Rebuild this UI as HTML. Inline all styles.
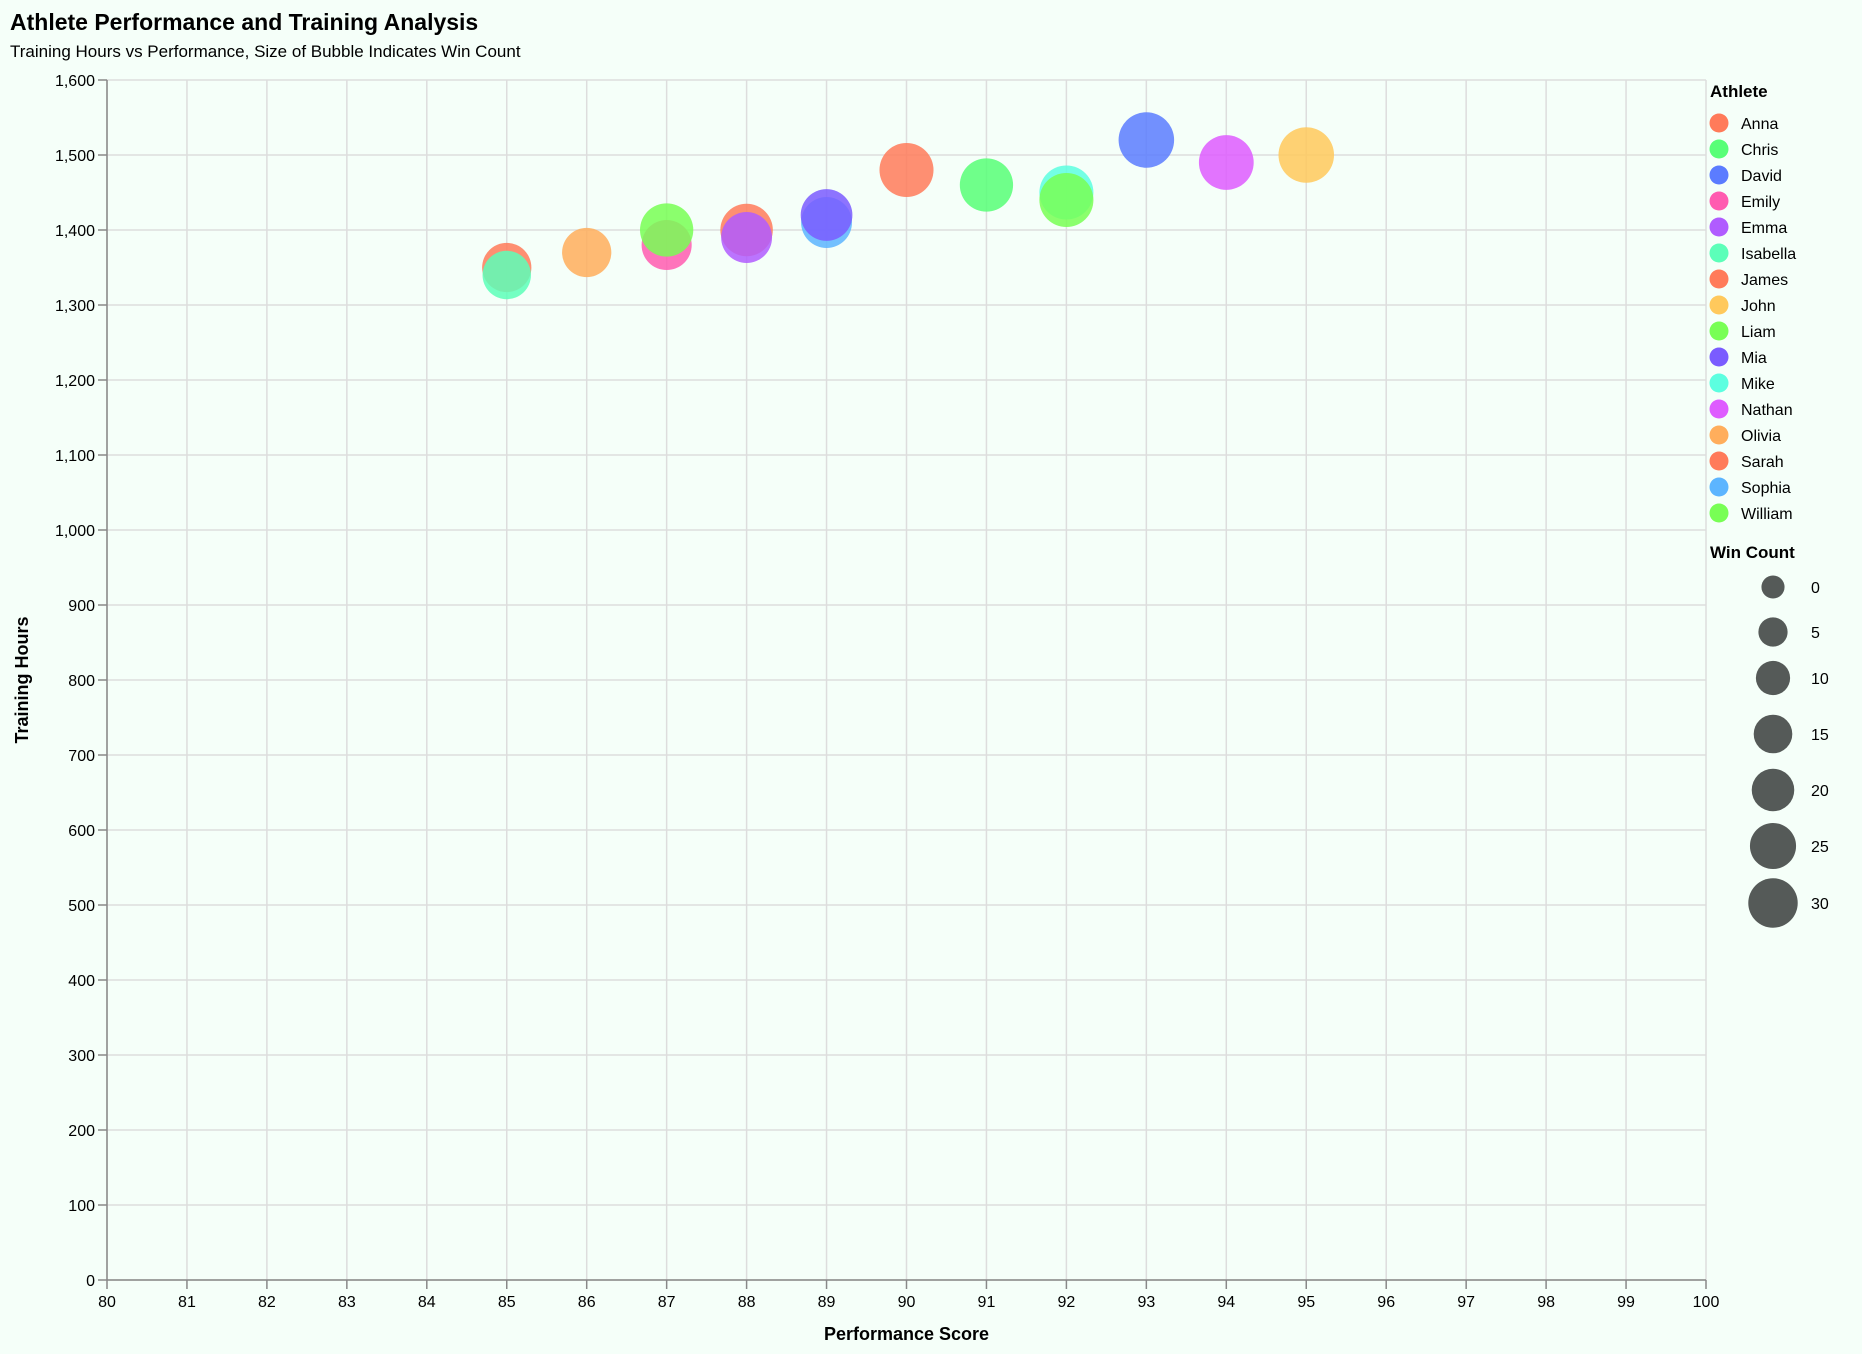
<!DOCTYPE html>
<html><head><meta charset="utf-8"><style>
html,body{margin:0;padding:0;background:#f5fff9;}
svg{display:block;font-family:"Liberation Sans",Arial,sans-serif;}
</style></head><body>
<svg id="c" width="1862" height="1354" xmlns="http://www.w3.org/2000/svg">
<rect width="1862" height="1354" fill="#f5fff9"/>
<text x="10" y="30" font-size="23" font-weight="bold" fill="#000">Athlete Performance and Training Analysis</text>
<text x="10" y="57" font-size="17" fill="#000">Training Hours vs Performance, Size of Bubble Indicates Win Count</text>
<g id="grid"></g>
<g id="axes"></g>
<g id="marks"></g>
<g id="legend"></g>
</svg>
<script>
const athletes = ["Sarah","Isabella","Olivia","Emily","Liam","James","Emma","Sophia","Mia","Anna","Chris","Mike","William","David","Nathan","John"];
const scores = [85,85,86,87,87,88,88,89,89,90,91,92,92,93,94,95];
const hours = [1350,1340,1370,1380,1400,1400,1390,1410,1420,1480,1460,1450,1440,1520,1490,1500];
const wins = [20,19,20,21,25,24,22,22,23,26,25,26,26,28,27,28];
const legendNames = ["Anna","Chris","David","Emily","Emma","Isabella","James","John","Liam","Mia","Mike","Nathan","Olivia","Sarah","Sophia","William"];
const legendColors = ["#ff7b5a","#57ff77","#5b7cff","#ff5cb0","#b05cff","#5cffb9","#ff7b5a","#ffc95c","#78ff55","#7a5cff","#5cffe0","#de5cff","#ffae5c","#ff7b5a","#5cb5ff","#78ff55"];
const xTicks = [80,81,82,83,84,85,86,87,88,89,90,91,92,93,94,95,96,97,98,99,100];
const yTicks = [0,100,200,300,400,500,600,700,800,900,1000,1100,1200,1300,1400,1500,1600];
const sizeTicks = [0,5,10,15,20,25,30];

const NS="http://www.w3.org/2000/svg";
const L=107,R=1706,T=80,B=1280;
const xs=v=>L+(v-80)/20*(R-L);
const ys=v=>B-v/1600*(B-T);
const area=w=>616+64.5*w;
const rad=w=>Math.sqrt(area(w)/Math.PI);
const larea=w=>420+50*w;
const lrad=w=>Math.sqrt(larea(w)/Math.PI);
const col=n=>legendColors[legendNames.indexOf(n)];
function mk(tag,attrs,parent,txt){const e=document.createElementNS(NS,tag);for(const k in attrs)e.setAttribute(k,attrs[k]);if(txt!==undefined)e.textContent=txt;parent.appendChild(e);return e;}
const grid=document.getElementById('grid'),axes=document.getElementById('axes'),marks=document.getElementById('marks'),leg=document.getElementById('legend');

xTicks.forEach(t=>{
  const g=mk('line',{x1:xs(t),x2:xs(t),y1:T,y2:B,stroke:'#dddddd','stroke-width':1.5},grid);
  
  
  const tk=mk('line',{x1:xs(t),x2:xs(t),y1:B,y2:B+9,stroke:'#888','stroke-width':1.5},axes);
  
  
  const lb=mk('text',{x:xs(t),y:B+27,'font-size':16,'text-anchor':'middle',fill:'#000'},axes,String(t));
  
  
});
yTicks.forEach(t=>{
  const g=mk('line',{x1:L,x2:R,y1:ys(t),y2:ys(t),stroke:'#dddddd','stroke-width':1.5},grid);
  
  
  const tk=mk('line',{x1:L-9,x2:L,y1:ys(t),y2:ys(t),stroke:'#888','stroke-width':1.5},axes);
  
  
  const lb=mk('text',{x:L-12,y:ys(t)+6,'font-size':16,'text-anchor':'end',fill:'#000'},axes,t.toLocaleString('en-US'));
  
  
});
const xa=mk('line',{x1:L,x2:R,y1:B,y2:B,stroke:'#888','stroke-width':1.5},axes);


const ya=mk('line',{x1:L,x2:L,y1:T,y2:B,stroke:'#888','stroke-width':1.5},axes);


const xt=mk('text',{x:(L+R)/2,y:1340,'font-size':18,'font-weight':'bold','text-anchor':'middle'},axes,'Performance Score');


const yt=mk('text',{x:0,y:0,'font-size':18,'font-weight':'bold','text-anchor':'middle',transform:`translate(28,${(T+B)/2}) rotate(-90)`},axes,'Training Hours');



athletes.forEach((n,i)=>{
  const c=mk('circle',{cx:xs(scores[i]),cy:ys(hours[i]),r:rad(wins[i]),fill:col(n),'fill-opacity':0.85},marks);
  
  
});

const lt=mk('text',{x:1710,y:97,'font-size':17,'font-weight':'bold'},leg,'Athlete');


legendNames.forEach((n,i)=>{
  const y=123+i*26;
  const s=mk('circle',{cx:1719,cy:y,r:9.5,fill:legendColors[i]},leg);
  
  
  const t=mk('text',{x:1741,y:y+6,'font-size':16},leg,n);
  
  
});
const wt=mk('text',{x:1710,y:558,'font-size':17,'font-weight':'bold'},leg,'Win Count');


const sy=[587,632,678,734,790,846,903];
sizeTicks.forEach((w,i)=>{
  const s=mk('circle',{cx:1773,cy:sy[i],r:lrad(w),fill:'#555a58'},leg);
  
  
  const t=mk('text',{x:1811,y:sy[i]+6,'font-size':16},leg,String(w));
  
  
});
</script>
</body></html>
